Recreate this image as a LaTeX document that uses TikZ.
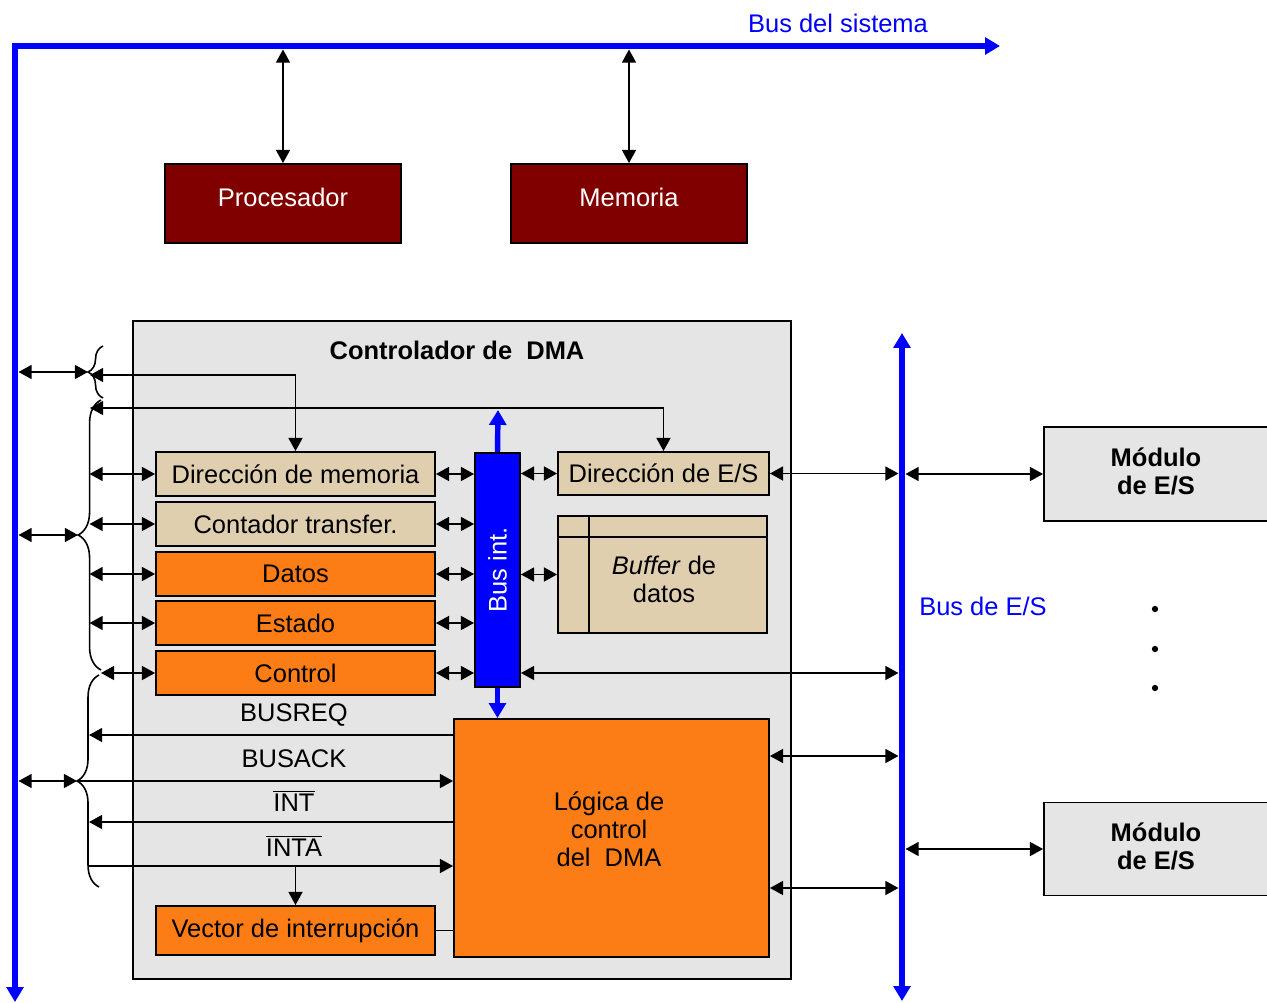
\documentclass[tikz,border=0pt]{standalone}
\usepackage{fontspec}
\setmainfont{Liberation Sans}
\usetikzlibrary{arrows.meta,decorations.pathreplacing}
\definecolor{procred}{RGB}{128,0,0}
\definecolor{regtan}{RGB}{224,207,175}
\definecolor{regorange}{RGB}{252,124,22}
\definecolor{boxgray}{RGB}{229,229,229}
\definecolor{busblue}{RGB}{0,0,255}
\tikzset{
  box/.style={draw=black, line width=1.1pt, inner sep=0pt},
  reg/.style={box, fill=regtan, minimum width=5.58cm, minimum height=0.88cm},
  oreg/.style={reg, fill=regorange},
  cpu/.style={box, fill=procred, minimum width=4.72cm, minimum height=1.58cm},
  boldtxt/.style={font=\fontsize{14.5}{16}\selectfont\bfseries},
  sig/.style={line width=0.9pt, -{Triangle[length=7.5pt,width=8pt]}},
  bisig/.style={line width=0.9pt, {Triangle[length=7.5pt,width=8pt]}-{Triangle[length=7.5pt,width=8pt]}},
  bus/.style={busblue, line width=3.1pt, line cap=rect, -{Triangle[length=8.5pt,width=9.5pt]}},
  brc/.style={line width=0.9pt, decorate, decoration={brace, amplitude=#1}},
}
\begin{document}
\begin{tikzpicture}[x=0.02cm, y=-0.02cm, font=\fontsize{14.5}{16}\selectfont]
  \useasboundingbox (0,0) rectangle (1267,1003);
  \clip (0,0) rectangle (1267,1003);

  % bus del sistema
  \coordinate (sbL) at (15,46);
  \coordinate (sbR) at (1000,46);
  \coordinate (sbB) at (15,1002);
  \draw[bus] (sbL) -- (sbR);
  \draw[bus] (sbL) -- (sbB);
  \node[text=busblue] (sbtxt) at (838,23) {Bus del sistema};

  \node[cpu] (proc) at (283,203.5) {};
  \node[cpu] (mem) at (629,203.5) {};
  \node[text=white] (proctxt) at (283,197) {Procesador};
  \node[text=white] (memtxt) at (629,197) {Memoria};
  \draw[bisig, shorten <=2pt] (proc.north |- sbL) -- (proc.north);
  \draw[bisig, shorten <=2pt] (mem.north |- sbL) -- (mem.north);

  % controlador de DMA
  \node[box, fill=boxgray, minimum width=13.16cm, minimum height=13.16cm] (dma) at (462,650) {};
  \node[boldtxt] (dmatxt) at (457,350) {Controlador de\ \ DMA};

  \node[reg] (dirmem) at (295.5,474) {Dirección de memoria};
  \node[reg] (cont) at (295.5,524) {Contador transfer.};
  \node[oreg] (datos) at (295.5,574) {Datos};
  \node[oreg] (estado) at (295.5,623) {Estado};
  \node[oreg] (control) at (295.5,673) {Control};

  \node[box, fill=busblue, minimum width=0.9cm, minimum height=4.68cm] (busint) at (497.5,570) {};
  \node[text=white, rotate=90] (businttxt) at (busint.center) {Bus int.};

  \node[reg, minimum width=4.22cm, minimum height=0.86cm] (dires) at (663.5,473.5) {Dirección de E/S};
  \node[reg, minimum width=4.18cm, minimum height=2.34cm] (buffer) at (662.5,574.5) {};
  \draw[line width=1.1pt] ([yshift=-0.44cm]buffer.north west) -- ([yshift=-0.44cm]buffer.north east);
  \draw[line width=1.1pt] ([xshift=0.64cm]buffer.north west) -- ([xshift=0.64cm]buffer.south west);
  \node[align=center] (buftxt) at (664,579) {\textit{Buffer} de\\datos};

  \node[oreg, minimum width=6.3cm, minimum height=4.76cm] (logica) at (611.5,838) {};
  \node[align=center] (logtxt) at (609,829) {Lógica de\\control\\del\ \ DMA};
  \node[oreg, minimum height=0.98cm] (vector) at (295.5,930.5) {Vector de interrupción};

  % bus de E/S y modulos
  \coordinate (ioT) at (902,333);
  \coordinate (ioM) at (902,700);
  \coordinate (ioB) at (902,1001);
  \draw[bus] (ioM) -- (ioT);
  \draw[bus] (ioM) -- (ioB);
  \node[text=busblue] (iotxt) at (983,606) {Bus de E/S};

  \node[box, fill=boxgray, minimum width=4.52cm, minimum height=1.88cm] (mod1) at (1157,474) {};
  \node[box, fill=boxgray, minimum width=4.52cm, minimum height=1.86cm] (mod2) at (1157,849) {};
  \node[align=center, boldtxt] (mod1txt) at (1156,471) {Módulo\\de E/S};
  \node[align=center, boldtxt] (mod2txt) at (1156,846) {Módulo\\de E/S};
  \foreach \y in {609,649,688}
    \fill (1155,\y) circle[radius=1.8pt];

  % llaves
  \draw[brc=8.5pt] (103,398) -- (103,346);
  \draw[brc=13pt] (101,670) -- (101,400);
  \draw[brc=12.5pt] (99,887) -- (99,675);
  \coordinate (brt1) at (88,372);
  \coordinate (brt2) at (78,535);
  \coordinate (brt3) at (77,781);
  \coordinate (brb2) at (89.5,535);
  \coordinate (brj) at (101,673);
  \draw[bisig, shorten <=2pt] (brt1 -| sbL) -- (brt1);
  \draw[bisig, shorten <=2pt] (brt2 -| sbL) -- (brt2);
  \draw[bisig, shorten <=2pt] (brt3 -| sbL) -- (brt3);

  \coordinate (br1in) at (90,375);
  \coordinate (br2in) at (90,408);
  \draw[bisig] (br1in) -| (dirmem.north);
  \draw[bisig] (br2in) -| (dires.north);
  \foreach \r in {dirmem,cont,datos,estado}
    \draw[bisig] (brb2 |- \r.west) -- (\r.west);
  \draw[bisig] (brj) -- (control.west);

  % bus interno
  \foreach \r in {dirmem,cont,datos,estado,control}
    \draw[bisig] (\r.east) -- (\r.east -| busint.west);
  \draw[bisig] (busint.east |- dires.west) -- (dires.west);
  \draw[bisig] (busint.east |- buffer.west) -- (buffer.west);
  \draw[bisig, shorten >=2pt] (busint.east |- control.east) -- (control.east -| ioT);
  \coordinate (bitop) at (498,410);
  \draw[bus, line cap=butt] (busint.north) -- (bitop);
  \draw[bus, line cap=butt] (busint.south) -- (busint.south |- logica.north);

  \draw[bisig, shorten >=2pt] (dires.east) -- (dires.east -| ioT);
  \draw[bisig, shorten <=2pt] (ioT |- mod1.west) -- (mod1.west);
  \coordinate (io1) at (902,756);
  \coordinate (io2) at (902,888);
  \draw[bisig, shorten >=2pt] (logica.east |- io1) -- (io1);
  \draw[bisig, shorten >=2pt] (logica.east |- io2) -- (io2);
  \draw[bisig, shorten <=2pt] (ioT |- mod2.west) -- (mod2.west);

  % senales
  \coordinate (req) at (89,735);
  \coordinate (intr) at (89,822);
  \coordinate (inta) at (88,866);
  \draw[sig] (logica.west |- req) -- (req);
  \draw[sig] (brt3) -- (logica.west |- brt3);
  \draw[sig] (logica.west |- intr) -- (intr);
  \draw[sig] (inta) -- (logica.west |- inta);
  \draw[sig] (vector.north |- inta) -- (vector.north);
  \draw[line width=0.9pt] (vector.east) -- (vector.east -| logica.west);
  \node (lreq) at (294,715) {BUSREQ};
  \node (lack) at (294,759) {BUSACK};
  \node (lint) at (294,801) {$\overline{\hbox{INT}}$};
  \node (linta) at (294,846) {$\overline{\hbox{INTA}}$};
\end{tikzpicture}
\end{document}
